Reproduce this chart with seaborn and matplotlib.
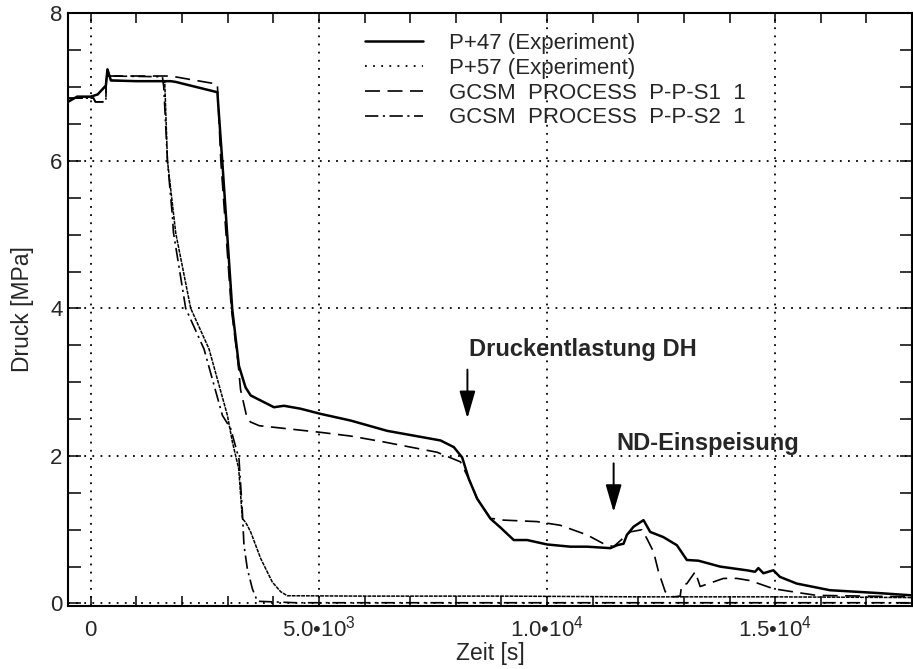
import matplotlib
matplotlib.use("Agg")
import matplotlib.pyplot as plt
from matplotlib.lines import Line2D
from matplotlib.ticker import MultipleLocator
import seaborn as sns

t_p47 = [-500, -300, 0, 150, 330, 365, 440, 1000, 1750, 1860, 2774, 2882, 3100, 3247,
         3391, 3504, 4015, 4233, 4599, 5037, 5694, 6497, 7665, 7956, 8140, 8285, 8469,
         8760, 8979, 9271, 9564, 10002, 10512, 10877, 11388, 11535, 11677, 11751, 11896,
         12115, 12261, 12550, 12846, 13065, 13319, 13794, 14378, 14560, 14633, 14742,
         14961, 15107, 15473, 16201, 17296, 18000]
p_p47 = [6.80, 6.87, 6.87, 6.90, 7.02, 7.24, 7.09, 7.08, 7.08, 7.07, 6.93, 5.99, 3.99, 3.22,
         2.93, 2.82, 2.66, 2.68, 2.64, 2.57, 2.48, 2.34, 2.21, 2.12, 1.98, 1.69, 1.42,
         1.15, 1.03, 0.86, 0.86, 0.80, 0.77, 0.77, 0.75, 0.79, 0.81, 0.93, 1.04,
         1.13, 0.97, 0.90, 0.79, 0.59, 0.58, 0.50, 0.45, 0.43, 0.48, 0.41,
         0.45, 0.36, 0.27, 0.18, 0.14, 0.11]

t_p57 = [-500, -300, 0, 150, 330, 365, 440, 1000, 1620, 1680, 1862, 2190, 2591, 2994,
         3103, 3241, 3322, 3394, 3504, 3723, 3979, 4161, 4307, 6000, 9000, 12000, 15000, 18000]
p_p57 = [6.80, 6.87, 6.87, 6.90, 7.02, 7.24, 7.09, 7.08, 7.08, 6.00, 5.02, 4.00, 3.45, 2.55,
         2.19, 1.83, 1.15, 1.10, 0.97, 0.61, 0.29, 0.16, 0.105, 0.10, 0.10, 0.09, 0.09, 0.08]

t_s1 = [-500, 60, 100, 330, 340, 1750, 2115, 2774, 2850, 3080, 3230, 3282, 3429, 3502,
        3690, 5034, 5690, 6420, 7591, 8102, 8285, 8469, 8760, 8831, 9050, 9780, 10291,
        10875, 11239, 11458, 11823, 12080, 12189, 12335, 12444, 12591, 12773, 12919, 12950,
        13066, 13248, 13357, 13868, 14161, 14453, 14963, 15474, 15912, 18000]
p_s1 = [6.85, 6.85, 6.80, 6.80, 7.15, 7.15, 7.11, 7.04, 6.00, 4.00, 3.25, 2.90, 2.50, 2.46,
        2.41, 2.32, 2.27, 2.19, 2.05, 1.92, 1.69, 1.42, 1.15, 1.15, 1.13, 1.11, 1.06,
        0.93, 0.81, 0.77, 0.97, 1.00, 0.88, 0.70, 0.43, 0.16, 0.09, 0.10, 0.24,
        0.27, 0.43, 0.23, 0.34, 0.34, 0.31, 0.20, 0.15, 0.11, 0.09]

t_s2 = [-500, 60, 100, 330, 340, 1570, 1599, 1680, 1789, 1811, 2080, 2481, 2884, 3066,
        3248, 3322, 3357, 3431, 3541, 3650, 4500, 18000]
p_s2 = [6.85, 6.85, 6.80, 6.80, 7.15, 7.14, 7.00, 6.00, 5.25, 5.03, 4.00, 3.45, 2.55, 2.37,
        1.96, 1.24, 0.79, 0.47, 0.20, 0.03, 0.01, 0.01]

labels = ["P+47 (Experiment)", "P+57 (Experiment)",
          "GCSM  PROCESS  P-P-S1  1", "GCSM  PROCESS  P-P-S2  1"]

x_ticks = [0, 5000, 10000, 15000]
x_ticklabels = ["0", "5.0\u202210$^{3}$", "1.0\u202210$^{4}$", "1.5\u202210$^{4}$"]
y_ticks = [0, 2, 4, 6, 8]

sns.set_style("ticks")
plt.rcParams["font.family"] = ["Liberation Sans", "DejaVu Sans"]
plt.rcParams["mathtext.fontset"] = "custom"
plt.rcParams["mathtext.rm"] = "Liberation Sans"
plt.rcParams["mathtext.it"] = "Liberation Sans:italic"
plt.rcParams["mathtext.bf"] = "Liberation Sans:bold"

fig = plt.figure(figsize=(9.13, 6.69), dpi=100)
ax = fig.add_axes([68 / 913, 1 - 605.7 / 669, 844 / 913, 592.4 / 669])

# Kurven
sty_p47 = dict(color="black", lw=1.8, linestyle="-")
sty_p57 = dict(color="black", lw=1.1, linestyle=(0, (2.5, 0.6)))
sty_s1 = dict(color="black", lw=1.2, linestyle=(0, (9, 4.5)))
sty_s2 = dict(color="black", lw=1.2, linestyle=(0, (8, 2.7, 1.3, 2.7)))

sns.lineplot(x=t_p57, y=p_p57, ax=ax, estimator=None, sort=False, **sty_p57)
sns.lineplot(x=t_s2, y=p_s2, ax=ax, estimator=None, sort=False, **sty_s2)
sns.lineplot(x=t_s1, y=p_s1, ax=ax, estimator=None, sort=False, **sty_s1)
sns.lineplot(x=t_p47, y=p_p47, ax=ax, estimator=None, sort=False, **sty_p47)

# Achsen
ax.set_xlim(-500, 18000)
ax.set_ylim(-0.03, 8)
ax.set_xticks(x_ticks)
ax.set_xticklabels(x_ticklabels)
ax.set_yticks(y_ticks)
ax.xaxis.set_minor_locator(MultipleLocator(1000))
ax.yaxis.set_minor_locator(MultipleLocator(0.5))
ax.tick_params(which="both", direction="in", top=True, right=True, width=1.1, color="black")
ax.tick_params(axis="x", which="both", length=7)
ax.tick_params(axis="y", which="both", length=9)
ax.tick_params(axis="x", labelsize=16, pad=22)
ax.tick_params(axis="y", labelsize=16, pad=4)
for lbl in ax.get_xticklabels():
    lbl.set_va("baseline")
for s in ax.spines.values():
    s.set_linewidth(1.5)
    s.set_color("black")

ax.grid(True, which="major", color="black", lw=1.3, linestyle=(0, (1, 3.5)))

ax.set_xlabel("Zeit [s]", fontsize=16.5)
ax.set_ylabel("Druck [MPa]", fontsize=16.5)
ax.xaxis.set_label_coords(0.5, -0.062)
ax.yaxis.set_label_coords(-0.040, 0.5)

# Legende
handles = [Line2D([], [], color="black", lw=1.8, linestyle="-"),
           Line2D([], [], color="black", lw=1.3, linestyle=(0, (1, 3.5))),
           Line2D([], [], color="black", lw=1.2, linestyle=(0, (9, 4.5))),
           Line2D([], [], color="black", lw=1.2, linestyle=(0, (8, 2.7, 1.3, 2.7)))]
ax.legend(handles, labels, loc="upper left", bbox_to_anchor=(365 / 913, 1 - 33 / 669),
          bbox_transform=fig.transFigure, frameon=False, fontsize=16, borderpad=0,
          labelspacing=0.17, handlelength=2.6, handletextpad=1.2, borderaxespad=0)

# Pfeile und Beschriftungen
arrow = dict(arrowstyle="-|>,head_length=1.2,head_width=0.35", color="black",
             lw=1.4, mutation_scale=14, shrinkA=0, shrinkB=0)
ax.annotate("", xy=(8255, 2.51), xytext=(8255, 3.17), arrowprops=arrow)
ax.annotate("", xy=(11460, 1.24), xytext=(11460, 1.90), arrowprops=arrow)
ax.text(8280, 3.35, "Druckentlastung DH", fontsize=17, fontweight="bold", va="baseline")
ax.text(11518, 2.08, "ND-Einspeisung", fontsize=17, fontweight="bold", va="baseline")

plt.savefig("out.png", dpi=100)
plt.close()
